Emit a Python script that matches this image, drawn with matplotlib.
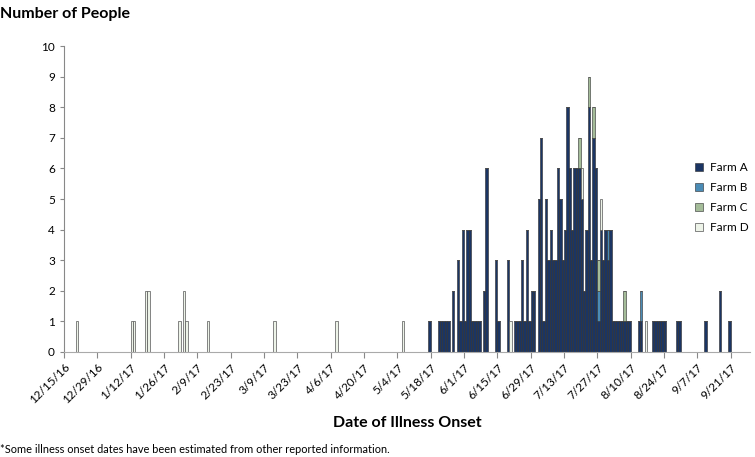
import numpy as np
import matplotlib.pyplot as plt

# days since 12/15/16 with at least one case
onset_day = [5, 28, 29, 34, 35, 48, 50, 51, 60, 88, 114, 142,
             153, 157, 158, 159, 160, 161, 163, 165, 166, 167, 168, 169, 170,
             171, 172, 173, 174, 176, 177, 181, 182, 186, 187, 189, 190, 191,
             192, 193, 194, 195, 196, 197, 199, 200, 201, 202, 203, 204, 205,
             206, 207, 208, 209, 210, 211, 212, 213, 214, 215, 216, 217, 218,
             219, 220, 221, 222, 223, 224, 225, 226, 227, 228, 229, 230, 231,
             232, 233, 234, 235, 236, 237, 241, 242, 244, 247, 248, 249, 250,
             251, 252, 257, 258, 269, 275, 279]

farm_a = [0, 0, 0, 0, 0, 0, 0, 0, 0, 0, 0, 0,
          1, 1, 1, 1, 1, 1, 2, 3, 1, 4, 1, 4, 4,
          1, 1, 1, 1, 2, 6, 3, 1, 3, 0, 1, 1, 1,
          3, 1, 4, 1, 2, 2, 5, 7, 1, 5, 3, 4, 3,
          3, 6, 5, 3, 4, 8, 6, 4, 6, 6, 6, 5, 2,
          4, 8, 3, 7, 6, 1, 4, 3, 4, 3, 4, 1, 1,
          1, 1, 1, 1, 1, 1, 1, 1, 0, 1, 1, 1, 1,
          1, 1, 1, 1, 1, 2, 1]

farm_b = [0, 0, 0, 0, 0, 0, 0, 0, 0, 0, 0, 0,
          0, 0, 0, 0, 0, 0, 0, 0, 0, 0, 0, 0, 0,
          0, 0, 0, 0, 0, 0, 0, 0, 0, 0, 0, 0, 0,
          0, 0, 0, 0, 0, 0, 0, 0, 0, 0, 0, 0, 0,
          0, 0, 0, 0, 0, 0, 0, 0, 0, 0, 0, 0, 0,
          0, 0, 0, 0, 0, 1, 0, 0, 0, 1, 0, 0, 0,
          0, 0, 0, 0, 0, 0, 0, 1, 0, 0, 0, 0, 0,
          0, 0, 0, 0, 0, 0, 0]

farm_c = [0, 0, 0, 0, 0, 0, 0, 0, 0, 0, 0, 0,
          0, 0, 0, 0, 0, 0, 0, 0, 0, 0, 0, 0, 0,
          0, 0, 0, 0, 0, 0, 0, 0, 0, 0, 0, 0, 0,
          0, 0, 0, 0, 0, 0, 0, 0, 0, 0, 0, 0, 0,
          0, 0, 0, 0, 0, 0, 0, 0, 0, 0, 1, 0, 0,
          0, 1, 0, 1, 0, 1, 0, 0, 0, 0, 0, 0, 0,
          0, 0, 0, 1, 0, 0, 0, 0, 0, 0, 0, 0, 0,
          0, 0, 0, 0, 0, 0, 0]

farm_d = [1, 1, 1, 2, 2, 1, 2, 1, 1, 1, 1, 1,
          0, 0, 0, 0, 0, 0, 0, 0, 0, 0, 0, 0, 0,
          0, 0, 0, 0, 0, 0, 0, 0, 0, 1, 0, 0, 0,
          0, 0, 0, 0, 0, 0, 0, 0, 0, 0, 0, 0, 0,
          0, 0, 0, 0, 0, 0, 0, 0, 0, 0, 0, 1, 0,
          0, 0, 0, 0, 0, 0, 1, 0, 0, 0, 0, 0, 0,
          0, 0, 0, 0, 0, 0, 0, 0, 1, 0, 0, 0, 0,
          0, 0, 0, 0, 0, 0, 0]

tick_labels = ['12/15/16', '12/29/16', '1/12/17', '1/26/17', '2/9/17', '2/23/17',
               '3/9/17', '3/23/17', '4/6/17', '4/20/17', '5/4/17', '5/18/17',
               '6/1/17', '6/15/17', '6/29/17', '7/13/17', '7/27/17', '8/10/17',
               '8/24/17', '9/7/17', '9/21/17']

plt.rcParams['font.family'] = ['Lato', 'DejaVu Sans']

fig = plt.figure(figsize=(7.55, 4.57), dpi=100)
ax = fig.add_axes([0.0848, 0.23, 0.908, 0.669])

x = np.array(onset_day) + 0.5
a = np.array(farm_a)
b = np.array(farm_b)
c = np.array(farm_c)
d = np.array(farm_d)

colors = ['#1b3563', '#4a8bb5', '#a4bc99', '#edf3e8']
edge = '#2b2b2b'
ax.bar(x, a, width=1.0, bottom=0, color=colors[0], edgecolor=edge, linewidth=0.4, label='Farm A')
ax.bar(x, b, width=1.0, bottom=a, color=colors[1], edgecolor=edge, linewidth=0.4, label='Farm B')
ax.bar(x, c, width=1.0, bottom=a + b, color=colors[2], edgecolor=edge, linewidth=0.4, label='Farm C')
ax.bar(x, d, width=1.0, bottom=a + b + c, color=colors[3], edgecolor='#555555', linewidth=0.5, label='Farm D')

ax.set_xlim(0, 288)
ax.set_ylim(0, 10)
ax.set_yticks(range(0, 11))
ax.set_xticks(np.arange(0, 281, 14))
ax.set_xticklabels(tick_labels, rotation=45, ha='right', rotation_mode='anchor', fontsize=8.5)
ax.tick_params(axis='y', labelsize=8.5, length=3, color='#888888')
ax.tick_params(axis='x', length=4, color='#888888', pad=3)

for side in ['top', 'right']:
    ax.spines[side].set_visible(False)
ax.spines['left'].set_color('#888888')
ax.spines['bottom'].set_color('#aaaaaa')
ax.spines['left'].set_linewidth(0.8)
ax.spines['bottom'].set_linewidth(0.8)

leg = ax.legend(loc='upper left', bbox_to_anchor=(0.905, 0.655), frameon=False, fontsize=8.5,
                handlelength=0.7, handleheight=0.7, labelspacing=0.75, handletextpad=0.6)

fig.text(0.0, 0.985, 'Number of People', fontsize=11.5, fontweight='bold', va='top', ha='left')
fig.text(0.539, 0.074, 'Date of Illness Onset', fontsize=11.5, fontweight='bold', va='center', ha='center')
fig.text(0.0, 0.004, '*Some illness onset dates have been estimated from other reported information.',
         fontsize=7.9, va='bottom', ha='left')

fig.savefig('out.png', dpi=100)
